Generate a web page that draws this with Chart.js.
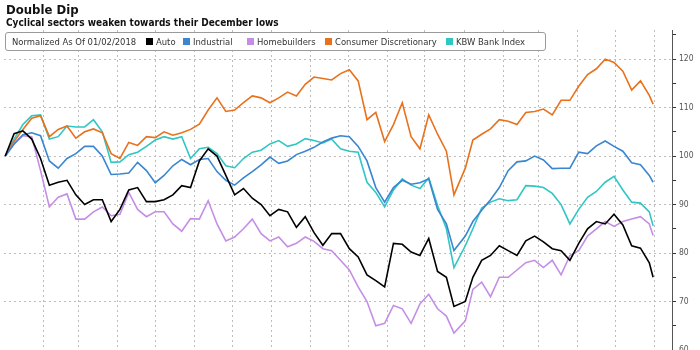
<!DOCTYPE html>
<html>
<head>
<meta charset="utf-8">
<script src="https://cdn.jsdelivr.net/npm/chart.js@4.4.1/dist/chart.umd.min.js"></script>
<style>
  html, body { margin: 0; padding: 0; background: #fff; }
  #wrap { position: relative; width: 700px; height: 350px; overflow: hidden; }
  #c { position: absolute; left: 0; top: 0; }
  .t { position: absolute; white-space: nowrap; color: #111; font-family: "DejaVu Sans Condensed", "DejaVu Sans", sans-serif; }
  #title { left: 6px; top: 2px; font-size: 13px; font-weight: bold; line-height: 16px; }
  #sub { left: 6px; top: 17px; font-size: 10px; font-weight: bold; line-height: 12px; }
  #legend { position: absolute; left: 5px; top: 32px; width: 539px; height: 17px; border: 1px solid #9a9a9a; border-radius: 3px; background: #fff; }
  .li { position: absolute; top: 35px; font-size: 9.4px; line-height: 13px; color: #333; font-family: "DejaVu Sans Condensed", "DejaVu Sans", sans-serif; white-space: nowrap; }
  .sw { position: absolute; top: 38px; width: 7px; height: 7px; }
</style>
</head>
<body>
<div id="wrap">
  <canvas id="c" width="700" height="350"></canvas>
  <div id="title" class="t">Double Dip</div>
  <div id="sub" class="t">Cyclical sectors weaken towards their December lows</div>
  <div id="legend"></div>
  <div id="legItems"></div>
</div>
<script>
// ---- Data ----
const dates = [
  '2018-01-02','2018-01-09','2018-01-16','2018-01-23','2018-01-30',
  '2018-02-06','2018-02-13','2018-02-20','2018-02-27',
  '2018-03-06','2018-03-13','2018-03-20','2018-03-27',
  '2018-04-03','2018-04-10','2018-04-17','2018-04-24',
  '2018-05-01','2018-05-08','2018-05-15','2018-05-22','2018-05-29',
  '2018-06-05','2018-06-12','2018-06-19','2018-06-26',
  '2018-07-03','2018-07-10','2018-07-17','2018-07-24','2018-07-31',
  '2018-08-07','2018-08-14','2018-08-21','2018-08-28',
  '2018-09-04','2018-09-11','2018-09-18','2018-09-25',
  '2018-10-02','2018-10-09','2018-10-16','2018-10-23','2018-10-30',
  '2018-11-06','2018-11-13','2018-11-20','2018-11-27',
  '2018-12-04','2018-12-11','2018-12-18','2018-12-24',
  '2019-01-02','2019-01-08','2019-01-15','2019-01-22','2019-01-29',
  '2019-02-05','2019-02-12','2019-02-19','2019-02-26',
  '2019-03-05','2019-03-12','2019-03-19','2019-03-26',
  '2019-04-02','2019-04-09','2019-04-16','2019-04-23','2019-04-30',
  '2019-05-07','2019-05-14','2019-05-21','2019-05-28','2019-05-31'
];
const auto = [100,104.6,105.2,103.5,99.5,94,94.6,95,92,90,
  91,91,86.5,89,93,93.5,90.6,90.6,91,92,
  93.9,93.5,99,101.5,100,96,92,93.3,91.3,90,
  87.7,89,88.5,85.3,87.5,84.2,81.6,84,84,80.9,
  79.2,75.5,74.3,73,82,81.8,80.2,79.5,83,76.2,
  75,69,70,75,78.5,79.5,81.5,80.5,79.5,82.5,
  83.5,82.3,80.9,80.5,78.5,82,85,86.5,86,88,
  85.8,81.5,81,78,75];
const industrial = [100,102.5,104.4,104.8,104.2,99,97.5,99.5,100.5,102,
  102,100,96.2,96.3,96.5,98.7,97,94.5,96,98,
  99.3,98.2,99.3,99.5,96.8,95,94,95.5,96.8,98.2,
  99.8,98.5,99,100.3,101,101.8,102.9,103.7,104.2,104,
  102,99,93.5,90.5,93.5,95,94.2,94.5,95.3,89,
  86,80.5,83.5,86.5,88.8,91,93.5,97,98.8,99,
  100,99.2,97.4,97.5,97.5,100.8,100.5,102.1,103.1,102,
  101,98.6,98.2,96,94.6];
const homebuilders = [100,102.5,104.2,104,97,89.5,91.5,92.2,87,87,
  88.5,89.5,87.7,88,92.5,89,87.5,88.5,88.5,86,
  84.5,87.1,87,90.8,86,82.5,83.3,85,87,84,
  82.5,83.3,81.3,82,83.3,82.4,80.9,80.5,78.5,76.5,
  73,70,65,65.5,69.2,68.5,65.5,69.5,71.5,68.5,
  67,63.5,66,72.5,74,71,75,75,76.5,78,
  78.5,77,78.5,75.5,79.5,80.5,83.5,85,86.5,85.5,
  86.5,87,87.5,86,83.6];
const consumerDisc = [100,103,105.5,107.8,108.3,104,105.5,106.2,103.7,105,
  105.6,104.8,100.5,99.5,102.8,102.2,104,103.8,105,104.3,
  104.8,105.5,106.6,109.5,112,109.2,109.5,111,112.4,112,
  111,112,113.2,112.4,114.8,116.3,116,115.7,117,117.8,
  115.5,107.5,109,103,106.5,111,104,101.5,108.5,104.5,
  101,92,97.5,103.3,104.5,105.6,107.5,107.2,106.5,109,
  109.2,109.7,108.5,111.5,111.5,114.4,116.8,118,120,119.3,
  117.5,113.6,115.5,112.5,110.7];
const kbwBank = [100,103.5,106.5,108.3,108.5,103.5,104,106.2,106,106,
  107.5,105,98.7,98.8,100.3,100.8,102,103.3,104,103.5,
  104,99.5,101.5,101.8,100.5,98,97.6,99.5,100.8,101.2,
  102.5,103.2,102,102.5,103.6,103.2,102.7,103.5,101.5,101,
  100.8,94.6,92.5,89.5,93,95.3,94,93.3,95.5,89.8,
  85,77,81.5,85,89.3,90.5,91.2,90.8,91,93.9,
  93.8,93.5,92.3,90,86,89,91.5,92.7,94.6,95.8,
  93,90.5,90.3,88.5,85.6];
const yTickLabels = [60,70,80,90,100,110,120];
const legendPrefix = 'Normalized As Of 01/02/2018';
const seriesNames = ['Auto','Industrial','Homebuilders','Consumer Discretionary','KBW Bank Index'];
const seriesColors = ['#000000','#3a86d0','#c58ee6','#e8711c','#30c6c4'];

// ---- helpers ----
const origin = Date.parse('2018-01-01');
const dayOf = s => (Date.parse(s) - origin) / 864e5;
const monthTicks = [];
for (let m = 1; m <= 17; m++) monthTicks.push((Date.UTC(2018, m, 1) - origin) / 864e5);

const seriesValues = [auto, industrial, homebuilders, consumerDisc, kbwBank];
const datasets = seriesValues.map((vals, i) => ({
  label: seriesNames[i],
  data: vals.map((v, j) => ({ x: dayOf(dates[j]), y: v })),
  borderColor: seriesColors[i],
  backgroundColor: seriesColors[i],
  borderWidth: 1.6,
  pointRadius: 0,
  tension: 0,
  fill: false
}));

// legend (HTML text)
const legItems = document.getElementById('legItems');
const pre = document.createElement('div');
pre.className = 'li'; pre.style.left = '12px'; pre.textContent = legendPrefix;
legItems.appendChild(pre);
const swX = [146, 183, 247, 325, 446];
seriesNames.forEach((n, i) => {
  const sw = document.createElement('div');
  sw.className = 'sw'; sw.style.left = swX[i] + 'px'; sw.style.background = seriesColors[i];
  legItems.appendChild(sw);
  const tx = document.createElement('div');
  tx.className = 'li'; tx.style.left = (swX[i] + 10) + 'px'; tx.textContent = n;
  legItems.appendChild(tx);
});

const gridCol = '#bdbdbd';
new Chart(document.getElementById('c'), {
  type: 'line',
  data: { datasets },
  options: {
    responsive: false,
    animation: false,
    devicePixelRatio: 1,
    layout: { padding: { left: 4, top: 30, right: 0, bottom: 0 } },
    plugins: { legend: { display: false }, tooltip: { enabled: false }, title: { display: false } },
    scales: {
      x: {
        type: 'linear', min: 0, max: 530,
        afterBuildTicks: s => { s.ticks = monthTicks.map(v => ({ value: v })); },
        afterFit: s => { s.height = 0; },
        ticks: { display: false },
        grid: { color: gridCol, lineWidth: 1, drawTicks: false },
        border: { display: false, dash: [2, 3] }
      },
      y: {
        type: 'linear', position: 'right', min: 60, max: 126,
        afterBuildTicks: s => {
          const t = [];
          for (let v = 60; v <= 125; v += 5) t.push({ value: v });
          s.ticks = t;
        },
        afterFit: s => { s.width = 28; s.paddingTop = 0; s.paddingBottom = 0; },
        ticks: {
          callback: v => yTickLabels.includes(v) ? String(v) : '',
          color: '#555',
          font: { family: 'DejaVu Sans Condensed', size: 8.5 },
          padding: 3
        },
        grid: {
          color: c => (c.tick && c.tick.value % 10 === 0) ? gridCol : 'rgba(0,0,0,0)',
          lineWidth: 1,
          drawTicks: true,
          tickLength: 4,
          tickColor: '#333',
          tickWidth: 1
        },
        border: { display: true, color: '#555', width: 1, dash: [2, 3] }
      }
    }
  }
});
</script>
</body>
</html>
